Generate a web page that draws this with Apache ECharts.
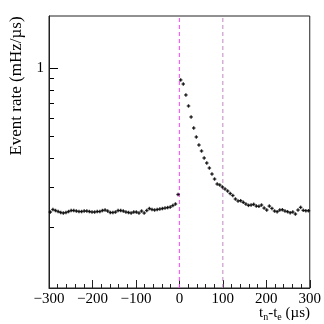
<!DOCTYPE html>
<html><head><meta charset="utf-8">
<script src="https://cdn.jsdelivr.net/npm/echarts@6/dist/echarts.min.js"></script>
<style>html,body{margin:0;padding:0;background:#fff}#c{width:324px;height:324px}</style>
</head><body><div id="c"></div>
<script>
const binCenters = [-297,-291,-285,-279,-273,-267,-261,-255,-249,-243,-237,-231,-225,-219,-213,-207,-201,-195,-189,-183,-177,-171,-165,-159,-153,-147,-141,-135,-129,-123,-117,-111,-105,-99,-93,-87,-81,-75,-69,-63,-57,-51,-45,-39,-33,-27,-21,-15,-9,-3,
3,9,15,21,27,33,39,45,51,57,63,69,75,81,87,93,99,105,111,117,123,129,135,141,147,153,159,165,171,177,183,189,195,201,207,213,219,225,231,237,243,249,255,261,267,273,279,285,291,297];
const rates = [0.2320,0.2380,0.2356,0.2332,0.2309,0.2297,0.2309,0.2332,0.2356,0.2356,0.2344,0.2332,0.2332,0.2344,0.2344,0.2332,0.2320,0.2320,0.2332,0.2332,0.2356,0.2368,0.2344,0.2309,0.2309,0.2320,0.2356,0.2356,0.2344,0.2320,0.2309,0.2297,0.2320,0.2320,0.2297,0.2344,0.2297,0.2356,0.2404,0.2380,0.2368,0.2380,0.2391,0.2404,0.2416,0.2428,0.2440,0.2478,0.2517,0.2772,
0.8856,0.8500,0.7604,0.6803,0.6084,0.5440,0.4967,0.4579,0.4309,0.4014,0.3815,0.3626,0.3412,0.3243,0.3083,0.3052,0.2991,0.2931,0.2872,0.2800,0.2744,0.2648,0.2595,0.2603,0.2561,0.2517,0.2483,0.2491,0.2509,0.2465,0.2458,0.2491,0.2416,0.2368,0.2465,0.2408,0.2344,0.2328,0.2368,0.2375,0.2344,0.2328,0.2304,0.2320,0.2274,0.2368,0.2433,0.2361,0.2351,0.2351];
const yMajorTicks = [1];
const yMinorTicks = [0.2,0.3,0.4,0.5,0.6,0.7,0.8,0.9];
const yLabels = ['1'];
const vLineMagenta = 0;
const vLineSecond = 100;
const xTitle = '{a|t}{s|n}{a|-t}{s|e}{a| (µs)}';
const yTitle = 'Event rate (mHz/µs)';

const FONT = 'Liberation Serif';
const yMin = 0.1074, yMax = 1.694, xMin = -300, xMax = 300;
const chart = echarts.init(document.getElementById('c'), null, {renderer:'canvas'});
const data = binCenters.map((x,i)=>[x, rates[i]]);
chart.setOption({
  animation:false,
  grid:{left:49,right:14,top:16,bottom:36,show:true,borderColor:'#222',borderWidth:1,backgroundColor:'transparent'},
  xAxis:{type:'value',min:xMin,max:xMax,interval:100,
    axisLine:{onZero:false,lineStyle:{color:'#222',width:1}},
    axisTick:{inside:true,length:8,lineStyle:{color:'#222'}},
    minorTick:{show:true,splitNumber:5,length:4,lineStyle:{color:'#222'}},
    splitLine:{show:false},
    axisLabel:{color:'#000',fontFamily:FONT,fontSize:15,margin:4,
      formatter:v=>String(v).replace('-','\u2212')}},
  yAxis:{type:'log',min:yMin,max:yMax,position:'left',
     axisLine:{show:true,onZero:false,lineStyle:{color:'#222',width:1}},
     axisTick:{show:false},
     axisLabel:{show:true,customValues:yMajorTicks,formatter:(v)=>yLabels[yMajorTicks.indexOf(v)] ?? '1',color:'#000',fontFamily:FONT,fontSize:15,margin:5},
     splitLine:{show:false}},
  series:[
   {type:'line',data:[[vLineMagenta,yMin],[vLineMagenta,yMax]],showSymbol:false,symbol:'none',
    lineStyle:{color:'#ff44ff',type:[4,3],width:1},silent:true,z:2},
   {type:'line',data:[[vLineSecond,yMin],[vLineSecond,yMax]],showSymbol:false,symbol:'none',
    lineStyle:{color:'#c088c0',type:[4,3],width:1},silent:true,z:2},
   {type:'scatter',data:data,
    symbol:'rect',symbolSize:[3.5,1.4],itemStyle:{color:'#000'},silent:true,z:3},
   {type:'scatter',data:data,z:3,
    symbol:'rect',symbolSize:[1.4,3.5],itemStyle:{color:'#000'},silent:true}
  ]
});
// y-axis ticks and titles positioned through the chart's own log scale
const x0 = chart.convertToPixel({xAxisIndex:0}, xMin);
const els = [];
yMinorTicks.forEach((v,i)=>{
  const y = Math.round(chart.convertToPixel({yAxisIndex:0}, v)) + 0.5;
  els.push({type:'rect',id:'mt'+i,z:60,silent:true,
    shape:{x:Math.round(x0)+1,y:y-0.5,width:4,height:1},style:{fill:'#000'}});
});
yMajorTicks.forEach((v,i)=>{
  const y = Math.round(chart.convertToPixel({yAxisIndex:0}, v)) + 0.5;
  els.push({type:'rect',id:'Mt'+i,z:60,silent:true,
    shape:{x:Math.round(x0)+1,y:y-0.5,width:8,height:1},style:{fill:'#000'}});
});
els.push({type:'text',id:'yt',x:17,y:86,rotation:Math.PI/2,z:61,
  style:{text:yTitle,fontFamily:FONT,fontSize:17,fill:'#000',align:'center',verticalAlign:'middle'}});
els.push({type:'text',id:'xt',x:310,y:313,z:61,
  style:{text:xTitle,align:'right',verticalAlign:'middle',
    rich:{a:{fontFamily:FONT,fontSize:15,fill:'#000',lineHeight:18},
          s:{fontFamily:FONT,fontSize:10,fill:'#000',lineHeight:18,padding:[8,0,0,0]}}}});
chart.setOption({graphic:els});
</script></body></html>
